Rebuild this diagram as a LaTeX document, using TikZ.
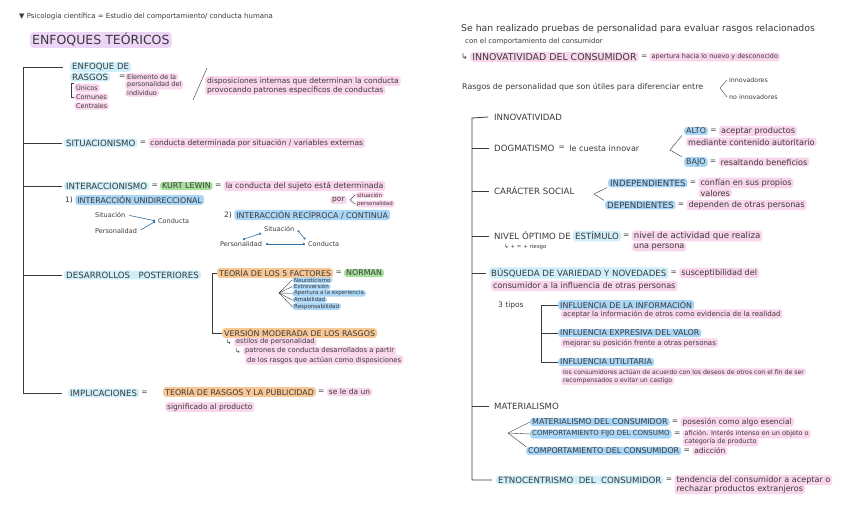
\documentclass[tikz,border=0pt]{standalone}
\usepackage{fontspec}
\setmainfont{DejaVu Sans}
\usetikzlibrary{arrows.meta}
\definecolor{rosa}{HTML}{FAD6EC}
\definecolor{celeste}{HTML}{CFEFFA}
\definecolor{azul}{HTML}{A9D5F7}
\definecolor{verde}{HTML}{A6E09A}
\definecolor{naranja}{HTML}{F9C794}
\definecolor{lila}{HTML}{EDD5F7}
\definecolor{tinta}{HTML}{3A3A3A}
\definecolor{azulosc}{HTML}{2F6FA8}
\newcommand{\tam}[1]{\fontsize{#1}{#1}\selectfont}

\begin{document}
\begin{tikzpicture}[x=1pt, y=-1pt,
    txt/.style={anchor=west, inner xsep=2pt, inner ysep=1.2pt, rounded corners=3pt, text=tinta, font=\tam{7.5}},
    tit/.style={txt, font=\tam{8.6}},
    sub/.style={txt, font=\tam{7.9}},
    der/.style={txt, font=\tam{8.1}},
    chico/.style={txt, font=\tam{5.5}, inner ysep=0.6pt},
    rosa/.style={fill=rosa}, celeste/.style={fill=celeste}, azul/.style={fill=azul},
    verde/.style={fill=verde}, naranja/.style={fill=naranja}, lila/.style={fill=lila},
    rama/.style={line width=0.8pt, tinta},
    flecha/.style={draw=azulosc, line width=0.6pt, -{Circle[length=2.2pt]}, shorten <=2pt, shorten >=1pt},
    enlace/.style={flecha, {Circle[length=2.2pt]}-{Circle[length=2.2pt]}}]
    % 背景与边界
    \fill[white] (0,0) rectangle (848,530);
    \useasboundingbox (0,0) rectangle (848,530);

    % 标题
    \node[txt, font=\tam{7}] (cab) at (17,16) {▼ Psicología científica = Estudio del comportamiento/ conducta humana};
    \node[txt, lila, font=\tam{12.5}] (titulo) at (30,40) {ENFOQUES TEÓRICOS};

    % 特质理论
    \node[tit, celeste] (rasgosA) at (70,67) {ENFOQUE DE};
    \node[tit, celeste] (rasgosB) at (70,77) {RASGOS};
    \node[txt] (eq1) at (117,77) {=};
    \node[txt, rosa, font=\tam{6.5}] (elem1) at (125,77) {Elemento de la};
    \node[txt, rosa, font=\tam{6.5}] (elem2) at (125,85) {personalidad del};
    \node[txt, rosa, font=\tam{6.5}] (elem3) at (125,93) {individuo};
    \node[txt, rosa, font=\tam{6.5}] (unicos) at (74,88) {Únicos};
    \node[txt, rosa, font=\tam{6.5}] (comunes) at (74,97) {Comunes};
    \node[txt, rosa, font=\tam{6.5}] (centrales) at (74,106) {Centrales};
    \draw[rama, thin] (unicos.north west) -- ++(-3,0) |- (comunes.west);
    \draw[rama, thin] (207,68) -- (193,100);
    \node[txt, rosa] (disp1) at (205,81) {disposiciones internas que determinan la conducta};
    \node[txt, rosa] (disp2) at (205,90) {provocando patrones específicos de conductas};

    % 情境论
    \node[tit, celeste] (situ) at (64,143) {SITUACIONISMO};
    \node[txt] (eq2) at (situ.east) {=};
    \node[txt, rosa] (situD) at (eq2.east) {conducta determinada por situación / variables externas};

    % 交互论
    \node[tit, celeste] (inter) at (64,186) {INTERACCIONISMO};
    \node[txt] (eq3) at (inter.east) {=};
    \node[sub, verde] (lewin) at (eq3.east) {KURT LEWIN};
    \node[txt] (eq4) at (lewin.east) {=};
    \node[txt, rosa, font=\tam{7.8}] (interD) at (eq4.east) {la conducta del sujeto está determinada};
    \node[txt, rosa] (por) at (330,200) {por};
    \coordinate (angP) at (350,200);
    \node[chico, rosa] (porS) at (355,195) {situación};
    \node[chico, rosa] (porP) at (355,204) {personalidad};
    \draw[rama, thin] (porS.west) -- (angP) -- (porP.west);
    \node[txt] (uno) at (63,200) {1)};
    \node[sub, azul] (unid) at (uno.east) {INTERACCIÓN UNIDIRECCIONAL};
    \node[txt, font=\tam{6.5}] (sit1) at (93,215) {Situación};
    \node[txt, font=\tam{6.5}] (per1) at (93,231) {Personalidad};
    \node[txt, font=\tam{6.5}] (con1) at (156,221) {Conducta};
    \draw[flecha] (sit1.east) -- (con1.west);
    \draw[flecha] (per1.east) -- (con1.west);
    \node[txt] (dos) at (222,215) {2)};
    \node[sub, azul] (recip) at (dos.east) {INTERACCIÓN RECÍPROCA / CONTINUA};
    \node[txt, font=\tam{6.5}] (sit2) at (262,229) {Situación};
    \node[txt, font=\tam{6.5}] (per2) at (218,244) {Personalidad};
    \node[txt, font=\tam{6.5}] (con2) at (306,244) {Conducta};
    \draw[enlace] (per2.north) -- (sit2.south west);
    \draw[enlace] (sit2.east) -- (con2.north west);
    \draw[enlace] (per2.east) -- (con2.west);

    % 后续发展
    \node[tit, celeste] (desa) at (64,275) {DESARROLLOS\quad POSTERIORES};
    \node[sub, naranja] (cinco) at (217,273) {TEORÍA DE LOS 5 FACTORES};
    \node[txt] (eq5) at (cinco.east) {=};
    \node[sub, verde] (norman) at (eq5.east) {NORMAN};
    \node[sub, naranja] (moder) at (222,333) {VERSIÓN MODERADA DE LOS RASGOS};
    \draw[rama] (cinco.west) -- ++(-5,0) |- (moder.west);
    \coordinate (abanico) at (279,293);
    \foreach \nom [count=\i] in {Neuroticismo,Extroversión,Apertura a la experiencia,Amabilidad,Responsabilidad}
        \node[chico, azul] (fac\i) at (292,273.5+6.6*\i) {\nom};
    \foreach \i in {1,...,5}
        \draw[rama, thin] (abanico) -- (fac\i.west);
    \node[txt, font=\tam{6.5}] (fl1) at (224,342) {↳};
    \node[txt, rosa, font=\tam{6.8}] (estilos) at (fl1.east) {estilos de personalidad};
    \node[txt, font=\tam{6.5}] (fl2) at (233,351) {↳};
    \node[txt, rosa, font=\tam{6.8}] (patr1) at (fl2.east) {patrones de conducta desarrollados a partir};
    \node[txt, rosa, font=\tam{6.8}] (patr2) at (245,360) {de los rasgos que actúan como disposiciones};

    % 含义
    \node[tit, celeste] (implic) at (68,393) {IMPLICACIONES};
    \node[txt] (eq6) at (implic.east) {=};
    \node[sub, naranja] (publi) at (163,392) {TEORÍA DE RASGOS Y LA PUBLICIDAD};
    \node[txt] (eq7) at (publi.east) {=};
    \node[txt, rosa] (publiD1) at (eq7.east) {se le da un};
    \node[txt, rosa] (publiD2) at (165,407) {significado al producto};

    % 左侧主干
    \coordinate (troncoL) at (23,67);
    \draw[rama] ([xshift=-7pt]rasgosA.west) -- (troncoL) -- (troncoL |- implic.west) -- ([xshift=-6pt]implic.west);
    \foreach \n in {situ, inter, desa}
        \draw[rama] (troncoL |- \n.west) -- ([xshift=-2pt]\n.west);

    % 右侧说明
    \node[txt, font=\tam{9.3}] (pr1) at (459,29) {Se han realizado pruebas de personalidad para evaluar rasgos relacionados};
    \node[txt, font=\tam{7}] (pr2) at (463,42) {con el comportamiento del consumidor};
    \node[txt, font=\tam{8}] (fl3) at (459,57) {↳};
    \node[txt, rosa, font=\tam{9.4}] (innovc) at (fl3.east) {INNOVATIVIDAD DEL CONSUMIDOR};
    \node[txt] (eq8) at (innovc.east) {=};
    \node[txt, rosa, font=\tam{6.5}] (innovD) at (eq8.east) {apertura hacia lo nuevo y desconocido};
    \node[txt, font=\tam{7.9}] (rasgosU) at (460,87) {Rasgos de personalidad que son útiles para diferenciar entre};
    \coordinate (angI) at (720,88);
    \node[chico, font=\tam{6.3}] (innov1) at (727,80) {innovadores};
    \node[chico, font=\tam{6.3}] (innov2) at (727,97) {no innovadores};
    \draw[rama, thin] (innov1.west) -- (angI) -- (innov2.west);

    % 创新性 / 教条主义
    \node[tit] (innovat) at (492,117) {INNOVATIVIDAD};
    \node[tit] (dogma) at (492,148) {DOGMATISMO};
    \node[txt] (eq9) at (dogma.east) {=};
    \node[der] (dogmaD) at (eq9.east) {le cuesta innovar};
    \coordinate (angD) at (670,150);
    \node[sub, azul] (alto) at (684,131) {ALTO};
    \node[txt] (eq10) at (alto.east) {=};
    \node[der, rosa] (altoD1) at (eq10.east) {aceptar productos};
    \node[der, rosa] (altoD2) at (686,142) {mediante contenido autoritario};
    \node[sub, azul] (bajo) at (684,162) {BAJO};
    \node[txt] (eq11) at (bajo.east) {=};
    \node[der, rosa] (bajoD) at (eq11.east) {resaltando beneficios};
    \draw[rama, thin] ([xshift=-2pt]alto.south west) -- (angD) -- ([xshift=-2pt]bajo.north west);

    % 社会性格
    \node[tit] (social) at (492,191) {CARÁCTER SOCIAL};
    \coordinate (angS) at (594,194);
    \node[tit, azul] (indep) at (608,183) {INDEPENDIENTES};
    \node[txt] (eq12) at (indep.east) {=};
    \node[der, rosa] (indepD1) at (eq12.east) {confían en sus propios};
    \node[der, rosa] (indepD2) at ([yshift=-10pt]indepD1.west) {valores};
    \node[tit, azul] (dep) at (605,205) {DEPENDIENTES};
    \node[txt] (eq13) at (dep.east) {=};
    \node[der, rosa] (depD) at (eq13.east) {dependen de otras personas};
    \draw[rama, thin] ([xshift=-1pt]indep.south west) -- (angS) -- ([xshift=-1pt]dep.north west);

    % 最佳刺激水平
    \node[tit] (nivelA) at (492,236) {NIVEL ÓPTIMO DE};
    \node[tit, celeste] (nivelB) at (nivelA.east) {ESTÍMULO};
    \node[txt] (eq14) at (nivelB.east) {=};
    \node[der, rosa, font=\tam{8.6}] (nivelD1) at (eq14.east) {nivel de actividad que realiza};
    \node[der, rosa] (nivelD2) at ([yshift=-11pt]nivelD1.west) {una persona};
    \node[txt, font=\tam{5.5}] (riesgo) at (502,247) {↳ + = + riesgo};

    % 寻求多样性
    \node[tit, celeste] (busq) at (489,273) {BÚSQUEDA DE VARIEDAD Y NOVEDADES};
    \node[txt] (eq15) at (busq.east) {=};
    \node[der, rosa] (busqD1) at (eq15.east) {susceptibilidad del};
    \node[der, rosa] (busqD2) at (491,286) {consumidor a la influencia de otras personas};
    \node[txt] (tipos) at (496,305) {3 tipos};
    \node[sub, azul] (inf1) at (558,305) {INFLUENCIA DE LA INFORMACIÓN};
    \node[txt, rosa, font=\tam{7}] (inf1D) at (561,314) {aceptar la información de otros como evidencia de la realidad};
    \node[sub, azul] (inf2) at (558,333) {INFLUENCIA EXPRESIVA DEL VALOR};
    \node[txt, rosa, font=\tam{7}] (inf2D) at (561,343) {mejorar su posición frente a otras personas};
    \node[sub, azul] (inf3) at (558,362) {INFLUENCIA UTILITARIA};
    \node[txt, rosa, font=\tam{6.2}] (inf3D1) at (561,372) {los consumidores actúan de acuerdo con los deseos de otros con el fin de ser};
    \node[txt, rosa, font=\tam{6.2}] (inf3D2) at (561,381) {recompensados o evitar un castigo};
    \draw[rama] (inf1.west) -- ++(-17,0) |- (inf3.west);
    \draw[rama] (inf2.west) -- ++(-17,0);

    % 物质主义
    \node[tit] (mater) at (492,406) {MATERIALISMO};
    \coordinate (abanicoM) at (508,433);
    \node[sub, azul] (mat1) at (530,422) {MATERIALISMO DEL CONSUMIDOR};
    \node[txt] (eq16) at (mat1.east) {=};
    \node[der, rosa, font=\tam{7.6}] (mat1D) at (eq16.east) {posesión como algo esencial};
    \node[sub, azul, font=\tam{7}] (mat2) at (530,434) {COMPORTAMIENTO FIJO DEL CONSUMO};
    \node[txt] (eq17) at (mat2.east) {=};
    \node[txt, rosa, font=\tam{6.5}] (mat2D1) at (eq17.east) {afición. Interés intenso en un objeto o};
    \node[txt, rosa, font=\tam{6.5}] (mat2D2) at ([yshift=-8pt]mat2D1.west) {categoría de producto};
    \node[sub, azul] (mat3) at (526,451) {COMPORTAMIENTO DEL CONSUMIDOR};
    \node[txt] (eq18) at (mat3.east) {=};
    \node[txt, rosa] (mat3D) at (eq18.east) {adicción};
    \foreach \n in {mat1, mat2}
        \draw[rama, thin] (abanicoM) -- (\n.west);
    \draw[rama, thin] (abanicoM) -- (mat3.north west);

    % 消费者民族中心主义
    \node[tit, celeste] (etno) at (496,480) {ETNOCENTRISMO\ \ DEL\ \ CONSUMIDOR};
    \node[txt] (eq19) at (etno.east) {=};
    \node[der, rosa] (etnoD1) at (eq19.east) {tendencia del consumidor a aceptar o};
    \node[der, rosa] (etnoD2) at ([yshift=-9pt]etnoD1.west) {rechazar productos extranjeros};

    % 右侧主干
    \coordinate (troncoR) at (472,118);
    \draw[rama] ([xshift=-4pt]innovat.west) -- (troncoR) -- (troncoR |- etno.west) -- ([xshift=-4pt]etno.west);
    \foreach \n in {dogma, social, nivelA, busq, mater}
        \draw[rama] (troncoR |- \n.west) -- ([xshift=-3pt]\n.west);
\end{tikzpicture}
\end{document}
